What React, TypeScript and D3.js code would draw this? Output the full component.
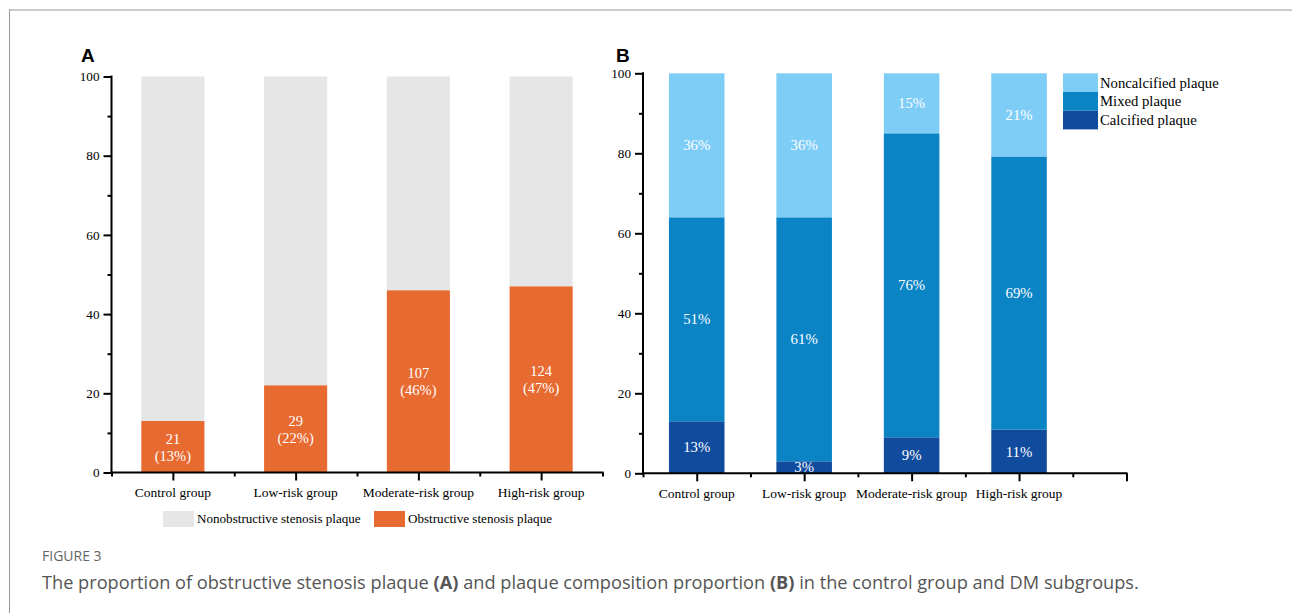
import React, { useEffect, useRef } from "react";
import * as d3 from "d3";

// Shared categories
const groups = ["Control group", "Low-risk group", "Moderate-risk group", "High-risk group"];

// Panel A: obstructive stenosis plaque counts and percentages
const obstructiveCounts = [21, 29, 107, 124];
const obstructivePct = [13, 22, 46, 47];
const legendA = ["Nonobstructive stenosis plaque", "Obstructive stenosis plaque"];

// Panel B: plaque composition percentages
const calcifiedPct = [13, 3, 9, 11];
const mixedPct = [51, 61, 76, 69];
const noncalcifiedPct = [36, 36, 15, 21];
const legendB = ["Noncalcified plaque", "Mixed plaque", "Calcified plaque"];

const yTicks = [0, 20, 40, 60, 80, 100];
const yMinorTicks = [10, 30, 50, 70, 90];

const SERIF = "'Liberation Serif', 'Times New Roman', serif";
const SANS = "'Liberation Sans', Arial, sans-serif";
const CAPTION = "'Open Sans', 'Noto Sans', sans-serif";

const COLORS = {
  gray: "#e6e6e6",
  orange: "#e76a31",
  light: "#7dcdf7",
  mixed: "#0b84c6",
  dark: "#104b9d",
};

function drawYAxis(g: d3.Selection<SVGGElement, unknown, null, undefined>, y: d3.ScaleLinear<number, number>, x0: number) {
  const major = g.append("g").attr("transform", `translate(${x0},0)`)
    .call(d3.axisLeft(y).tickValues(yTicks).tickSize(8).tickPadding(4).tickFormat(d3.format("d")));
  major.select(".domain").remove();
  major.selectAll("line").attr("stroke", "#000").attr("stroke-width", 2);
  major.selectAll("text").attr("font-family", SERIF).attr("font-size", 13.2).attr("fill", "#000");
  const minor = g.append("g").attr("transform", `translate(${x0},0)`)
    .call(d3.axisLeft(y).tickValues(yMinorTicks).tickSize(4).tickFormat(() => ""));
  minor.select(".domain").remove();
  minor.selectAll("line").attr("stroke", "#000").attr("stroke-width", 2);
  g.append("line")
    .attr("x1", x0).attr("x2", x0)
    .attr("y1", y(100) - 1).attr("y2", y(0) + 1)
    .attr("stroke", "#000").attr("stroke-width", 2);
}

function drawXAxis(
  g: d3.Selection<SVGGElement, unknown, null, undefined>,
  x: d3.ScaleLinear<number, number>,
  y0: number,
  majorVals: number[],
  minorVals: number[],
  labels: string[],
  labelY: number
) {
  const [d0, d1] = x.domain();
  g.append("line")
    .attr("x1", x(d0) - 1).attr("x2", x(d1) + 1)
    .attr("y1", y0).attr("y2", y0)
    .attr("stroke", "#000").attr("stroke-width", 2);
  const major = g.append("g").attr("transform", `translate(0,${y0})`)
    .call(d3.axisBottom(x).tickValues(majorVals).tickSize(8).tickFormat(() => ""));
  major.select(".domain").remove();
  major.selectAll("line").attr("stroke", "#000").attr("stroke-width", 2);
  const minor = g.append("g").attr("transform", `translate(0,${y0})`)
    .call(d3.axisBottom(x).tickValues(minorVals).tickSize(4).tickFormat(() => ""));
  minor.select(".domain").remove();
  minor.selectAll("line").attr("stroke", "#000").attr("stroke-width", 2);
  g.selectAll(null)
    .data(labels)
    .enter()
    .append("text")
    .attr("x", (_d, i) => x(i + 1))
    .attr("y", labelY)
    .attr("text-anchor", "middle")
    .attr("font-family", SERIF)
    .attr("font-size", 13.5)
    .attr("fill", "#000")
    .text((d) => d);
}

export default function App() {
  const ref = useRef<SVGSVGElement | null>(null);

  useEffect(() => {
    document.body.style.margin = "0";
    const svg = d3.select(ref.current!);
    svg.selectAll("*").remove();

    // Frame
    svg.append("line").attr("x1", 9).attr("x2", 1292).attr("y1", 10).attr("y2", 10)
      .attr("stroke", "#cccccc").attr("stroke-width", 2);
    svg.append("line").attr("x1", 9.5).attr("x2", 9.5).attr("y1", 9).attr("y2", 613)
      .attr("stroke", "#999999").attr("stroke-width", 1);

    // ---------- Panel A ----------
    const gA = svg.append("g");
    const xA = d3.scaleLinear().domain([0.5, 4.5]).range([111.5, 602.5]);
    const yA = d3.scaleLinear().domain([0, 100]).range([472.5, 76.5]);
    const bwA = (xA(1) - xA(0.5)) * 2 * 0.514;

    gA.selectAll(null).data(groups).enter().append("rect")
      .attr("x", (_d, i) => xA(i + 1) - bwA / 2)
      .attr("width", bwA)
      .attr("y", yA(100))
      .attr("height", (_d, i) => yA(obstructivePct[i]) - yA(100))
      .attr("fill", COLORS.gray);
    gA.selectAll(null).data(groups).enter().append("rect")
      .attr("x", (_d, i) => xA(i + 1) - bwA / 2)
      .attr("width", bwA)
      .attr("y", (_d, i) => yA(obstructivePct[i]))
      .attr("height", (_d, i) => yA(0) - yA(obstructivePct[i]))
      .attr("fill", COLORS.orange);

    const lblA = gA.selectAll(null).data(groups).enter().append("text")
      .attr("text-anchor", "middle")
      .attr("font-family", SERIF)
      .attr("font-size", 14.5)
      .attr("fill", "#ffffff");
    lblA.append("tspan")
      .attr("x", (_d, i) => xA(i + 1))
      .attr("y", (_d, i) => yA(obstructivePct[i] / 2) - 3)
      .text((_d, i) => String(obstructiveCounts[i]));
    lblA.append("tspan")
      .attr("x", (_d, i) => xA(i + 1))
      .attr("y", (_d, i) => yA(obstructivePct[i] / 2) + 14)
      .text((_d, i) => `(${obstructivePct[i]}%)`);

    drawYAxis(gA, yA, 111.5);
    drawXAxis(gA, xA, 472.5, [1, 2, 3, 4], [0.5, 1.5, 2.5, 3.5, 4.5], groups, 497);

    // Legend A
    const legA = [
      { label: legendA[0], color: COLORS.gray, x: 163 },
      { label: legendA[1], color: COLORS.orange, x: 374 },
    ];
    legA.forEach((l) => {
      gA.append("rect").attr("x", l.x).attr("y", 511).attr("width", 31).attr("height", 16).attr("fill", l.color);
      gA.append("text").attr("x", l.x + 34).attr("y", 523)
        .attr("font-family", SERIF).attr("font-size", 13.1).attr("fill", "#000").text(l.label);
    });

    gA.append("text").attr("x", 81).attr("y", 62)
      .attr("font-family", SANS).attr("font-weight", "bold").attr("font-size", 19).text("A");

    // ---------- Panel B ----------
    const gB = svg.append("g");
    const xB = d3.scaleLinear().domain([0.5, 5]).range([643, 1126.5]);
    const yB = d3.scaleLinear().domain([0, 100]).range([473.3, 73.3]);
    const bwB = (xB(1) - xB(0.5)) * 2 * 0.517;

    const rows = groups.map((g, i) => ({
      group: g,
      calcified: calcifiedPct[i],
      mixed: mixedPct[i],
      noncalcified: noncalcifiedPct[i],
    }));
    const keys = ["calcified", "mixed", "noncalcified"] as const;
    const keyColor: Record<string, string> = {
      calcified: COLORS.dark,
      mixed: COLORS.mixed,
      noncalcified: COLORS.light,
    };
    // Each bar is shown as a share of its own total
    const stack = d3.stack<any>().keys(keys as any).offset(d3.stackOffsetExpand);
    const series = stack(rows);

    series.forEach((s) => {
      gB.selectAll(null).data(s).enter().append("rect")
        .attr("x", (_d, i) => xB(i + 1) - bwB / 2)
        .attr("width", bwB)
        .attr("y", (d) => yB(d[1] * 100))
        .attr("height", (d) => yB(d[0] * 100) - yB(d[1] * 100))
        .attr("fill", keyColor[s.key]);
    });
    series.forEach((s) => {
      gB.selectAll(null).data(s).enter().append("text")
        .attr("x", (_d, i) => xB(i + 1))
        .attr("y", (d) => yB(((d[0] + d[1]) / 2) * 100) + 5)
        .attr("text-anchor", "middle")
        .attr("font-family", SERIF)
        .attr("font-size", 14.8)
        .attr("fill", "#ffffff")
        .text((d) => `${(d.data as any)[s.key]}%`);
    });

    drawYAxis(gB, yB, 643);
    drawXAxis(gB, xB, 473.3, [1, 2, 3, 4, 5], [0.5, 1.5, 2.5, 3.5, 4.5], groups, 497.5);

    // Legend B
    const legBColors = [COLORS.light, COLORS.mixed, COLORS.dark];
    legendB.forEach((l, i) => {
      gB.append("rect").attr("x", 1063).attr("y", 73.3 + i * 18.7).attr("width", 35).attr("height", 18.7)
        .attr("fill", legBColors[i]);
      gB.append("text").attr("x", 1100).attr("y", 87.5 + i * 18.7)
        .attr("font-family", SERIF).attr("font-size", 14.7).attr("fill", "#000").text(l);
    });

    gB.append("text").attr("x", 616).attr("y", 62)
      .attr("font-family", SANS).attr("font-weight", "bold").attr("font-size", 19).text("B");

    // ---------- Caption ----------
    svg.append("text").attr("x", 42).attr("y", 561)
      .attr("font-family", CAPTION).attr("font-size", 14)
      .attr("fill", "#666").text("FIGURE 3");
    const cap = svg.append("text").attr("x", 42).attr("y", 589)
      .attr("font-family", CAPTION).attr("font-size", 18.2)
      .attr("fill", "#555");
    cap.append("tspan").text("The proportion of obstructive stenosis plaque ");
    cap.append("tspan").attr("font-weight", "bold").text("(A)");
    cap.append("tspan").text(" and plaque composition proportion ");
    cap.append("tspan").attr("font-weight", "bold").text("(B)");
    cap.append("tspan").text(" in the control group and DM subgroups.");
  }, []);

  return <svg ref={ref} width={1292} height={613} style={{ display: "block" }} />;
}
